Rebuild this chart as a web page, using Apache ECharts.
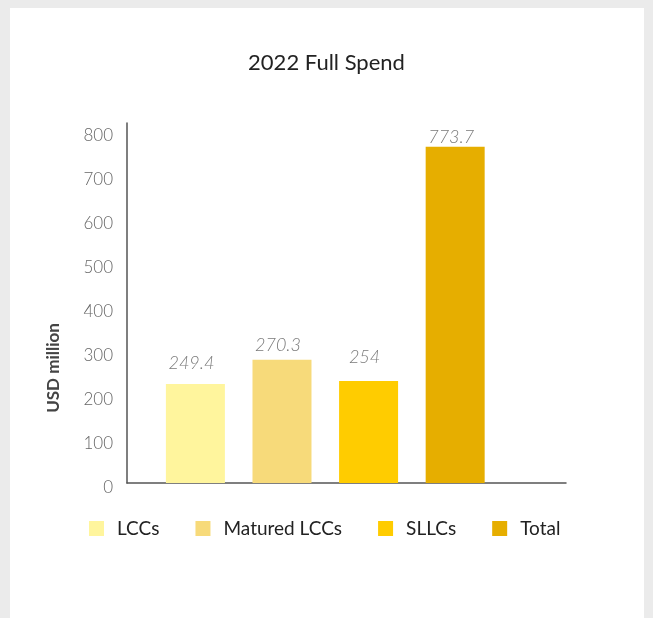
<!DOCTYPE html>
<html>
<head>
<meta charset="utf-8">
<script src="https://cdn.jsdelivr.net/npm/echarts@6/dist/echarts.min.js"></script>
<style>
  html, body { margin: 0; padding: 0; background: #ebebeb; }
  #card { position: absolute; left: 10px; top: 8px; width: 634px; height: 610px; background: #ffffff; }
  #chart { position: absolute; left: 0; top: 0; width: 653px; height: 618px; }
</style>
</head>
<body>
<div id="card"></div>
<div id="chart"></div>
<script>
// ---- data ----
const categories = ['LCCs', 'Matured LCCs', 'SLLCs', 'Total'];
const barValues = [225, 280, 232, 764];            // bar heights as drawn
const labelTexts = ['249.4', '270.3', '254', '773.7']; // value labels as printed
const yTicks = [0, 100, 200, 300, 400, 500, 600, 700, 800];
const colors = ['#fff59d', '#f7da7a', '#ffcc00', '#e6ae00'];
const labelGaps = [12, 6, 15, 1];

const chart = echarts.init(document.getElementById('chart'), null, { renderer: 'canvas' });
const FONT = 'Lato';

const series = categories.map((name, i) => ({
  name: name,
  type: 'bar',
  stack: 'all',
  barWidth: 59,
  itemStyle: { color: colors[i] },
  label: {
    show: true,
    position: 'top',
    distance: labelGaps[i],
    offset: [-4, 0],
    formatter: () => labelTexts[i],
    fontFamily: FONT,
    fontStyle: 'italic',
    fontWeight: 300,
    fontSize: 18,
    color: '#7a7a7a'
  },
  data: [[i, barValues[i]]]
}));

chart.setOption({
  animation: false,
  backgroundColor: 'transparent',
  title: {
    text: '2022 Full Spend',
    left: 'center',
    top: 47,
    textStyle: { fontFamily: FONT, fontSize: 22, fontWeight: 'normal', color: '#222' }
  },
  grid: { left: 127, right: 87, top: 123, bottom: 135 },
  xAxis: {
    type: 'value',
    min: -0.79,
    max: 4.28,
    axisLine: { show: true, onZero: false, lineStyle: { color: '#555', width: 1.5 } },
    axisTick: { show: false },
    axisLabel: { show: false },
    splitLine: { show: false }
  },
  yAxis: {
    type: 'value',
    min: yTicks[0],
    max: 818,
    interval: 100,
    axisLine: { show: true, onZero: false, lineStyle: { color: '#555', width: 1.5 } },
    axisTick: { show: false },
    splitLine: { show: false },
    axisLabel: {
      showMaxLabel: false,
      margin: 14,
      verticalAlign: 'top',
      lineHeight: 10,
      fontFamily: FONT,
      fontWeight: 300,
      fontSize: 17,
      color: '#666'
    }
  },
  legend: {
    data: categories,
    left: 84,
    top: 514,
    itemWidth: 15,
    itemHeight: 15,
    itemGap: 36,
    icon: 'rect',
    textStyle: { fontFamily: FONT, fontSize: 19, color: '#222', padding: [0, 0, 0, 8] }
  },
  graphic: [{
    type: 'text',
    x: 54,
    y: 368,
    rotation: Math.PI / 2,
    style: {
      text: 'USD million',
      fontFamily: FONT,
      fontWeight: 'bold',
      fontSize: 17,
      fill: '#444',
      align: 'center',
      verticalAlign: 'middle'
    }
  }],
  series: series
});
</script>
</body>
</html>
